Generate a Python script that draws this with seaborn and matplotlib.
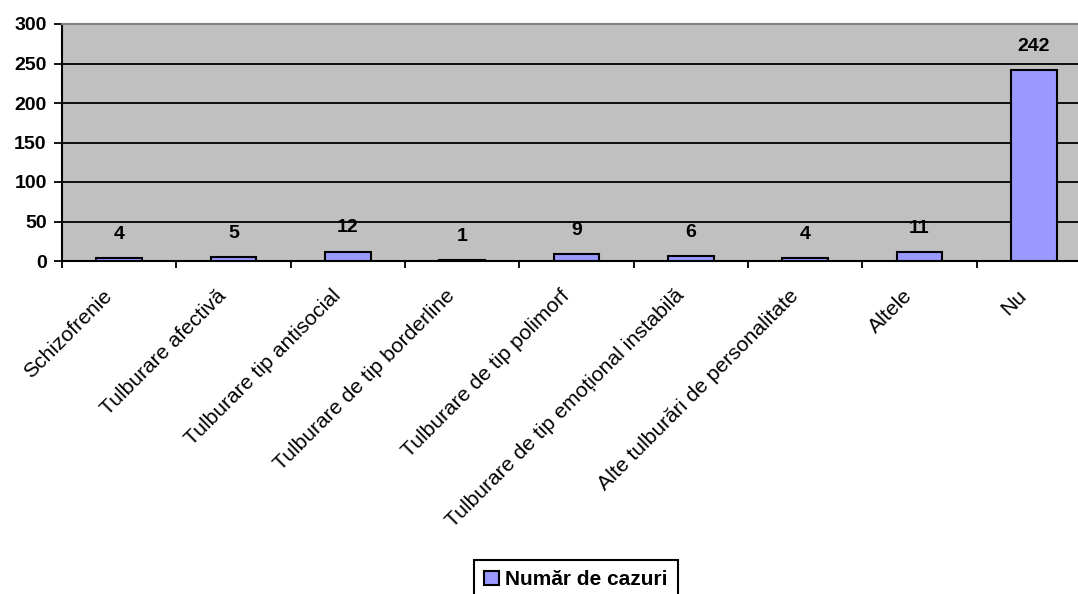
import matplotlib
matplotlib.use("Agg")
import matplotlib.pyplot as plt
import matplotlib.transforms as mtransforms
from matplotlib.patches import Patch
import seaborn as sns
import pandas as pd

categories = [
    "Schizofrenie",
    "Tulburare afectivă",
    "Tulburare tip antisocial",
    "Tulburare de tip borderline",
    "Tulburare de tip polimorf",
    "Tulburare de tip emoțional instabilă",
    "Alte tulburări de personalitate",
    "Altele",
    "Nu",
]
cases = [4, 5, 12, 1, 9, 6, 4, 11, 242]
series_name = "Număr de cazuri"
y_ticks = [0, 50, 100, 150, 200, 250, 300]

sns.set_style("white")
plt.rcParams["font.family"] = ["Liberation Sans", "DejaVu Sans"]
plt.rcParams["text.color"] = "black"
plt.rcParams["xtick.color"] = "black"
plt.rcParams["ytick.color"] = "black"
plt.rcParams["axes.labelcolor"] = "black"

df = pd.DataFrame({"categorie": categories, "cazuri": cases})

W, H = 1078, 594
fig = plt.figure(figsize=(W / 100, H / 100), dpi=100)
# plot area runs past the right edge of the canvas
ax = fig.add_axes([62 / W, 333 / H, 1029 / W, 237 / H])
ax.set_facecolor("#C0C0C0")

sns.barplot(data=df, x="categorie", y="cazuri", color="#9999FF",
            edgecolor="black", linewidth=1.5, width=0.4, ax=ax,
            saturation=1, zorder=3)

ax.set_xlim(-0.5, len(categories) - 0.5)
ax.set_ylim(0, 300)
ax.set_xlabel("")
ax.set_ylabel("")

# horizontal grid lines
for v in y_ticks[1:-1]:
    ax.axhline(v, color="black", lw=1.3, zorder=1)

ax.set_yticks(y_ticks)
ax.set_yticklabels([str(v) for v in y_ticks], fontsize=14, fontweight="bold")
ax.tick_params(axis="y", direction="out", length=6, width=1.3, color="black",
               pad=5, left=True)

# category labels at bar centres, tick marks at category boundaries
ax.set_xticks(range(len(categories)))
ax.set_xticklabels(categories, rotation=45, ha="right", va="top",
                   rotation_mode="anchor", fontsize=15.2)
ax.tick_params(axis="x", which="major", length=0, pad=18)
ax.set_xticks([i - 0.5 for i in range(len(categories) + 1)], minor=True)
ax.tick_params(axis="x", which="minor", direction="out", length=5,
               width=1.3, color="black", bottom=True)
shift = mtransforms.ScaledTranslation(-12 / 72, 0, fig.dpi_scale_trans)
for lbl in ax.get_xticklabels():
    lbl.set_transform(lbl.get_transform() + shift)

for side in ["left", "bottom"]:
    ax.spines[side].set_color("black")
    ax.spines[side].set_linewidth(1.5)
ax.spines["top"].set_color("#808080")
ax.spines["top"].set_linewidth(1.5)
ax.spines["right"].set_visible(False)

ax.bar_label(ax.containers[0], labels=[str(v) for v in cases], padding=11,
             fontsize=14, fontweight="bold")

handle = Patch(facecolor="#9999FF", edgecolor="black", linewidth=1.5)
leg = fig.legend([handle], [series_name], loc="upper center",
                 bbox_to_anchor=(576 / W, 1 - 560 / H), frameon=True,
                 fancybox=False, edgecolor="black", framealpha=1,
                 prop={"weight": "bold", "size": 15}, handlelength=0.7,
                 handleheight=0.7, handletextpad=0.3, borderpad=0.5,
                 borderaxespad=0)
leg.get_frame().set_linewidth(1.5)

fig.savefig("out.png", dpi=100)
